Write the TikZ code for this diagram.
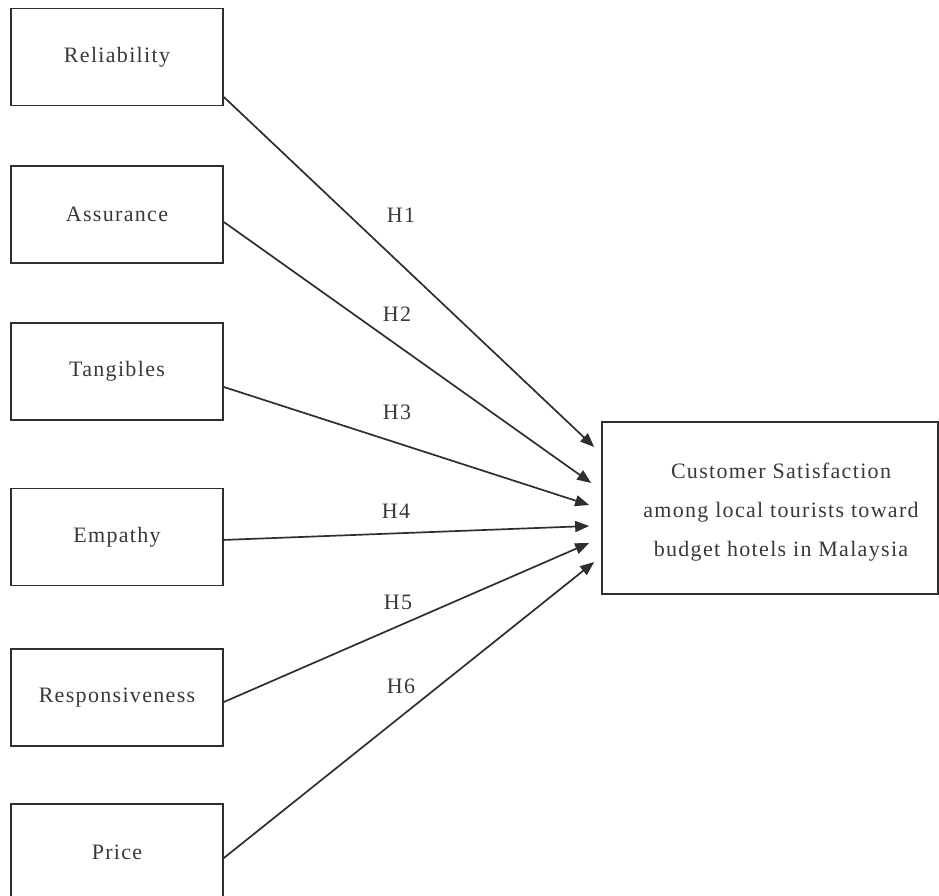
\documentclass[tikz,border=0pt]{standalone}
\usepackage{fontspec}
\setmainfont{Liberation Serif}[LetterSpace=6]
\usetikzlibrary{arrows.meta}
\definecolor{ink}{HTML}{2E2E2E}
\definecolor{txt}{HTML}{383838}
\begin{document}
\begin{tikzpicture}[x=1pt,y=-1pt,
  box/.style={draw=ink,line width=1.7pt,minimum width=212pt,minimum height=97pt,inner sep=0pt,
    text=txt,font=\fontsize{22}{39}\selectfont},
  conn/.style={draw=ink,line width=1.7pt,-{Triangle[length=14pt,width=11pt]}},
  hlab/.style={text=txt,font=\fontsize{22}{24}\selectfont,inner sep=0pt}]
\useasboundingbox (0,0) rectangle (939,896);
\node[box] (rel) at (117,57) {Reliability};
\node[box] (ass) at (117,214.5) {Assurance};
\node[box] (tan) at (117,371.5) {Tangibles};
\node[box] (emp) at (117,537) {Empathy};
\node[box] (res) at (117,697.5) {Responsiveness};
\node[box] (pri) at (117,852.5) {Price};
\node[draw=ink,line width=1.7pt,minimum width=336pt,minimum height=172pt,inner sep=0pt] (cs) at (770,508) {};
\node[text=txt,font=\fontsize{22}{39}\selectfont,align=center,inner sep=0pt] (cstext) at (781,512)
  {Customer Satisfaction\\among local tourists toward\\budget hotels in Malaysia};
\draw[conn] ([yshift=-40pt]rel.east) -- ([xshift=-7pt,yshift=61pt]cs.west);
\draw[conn] ([yshift=-7.5pt]ass.east) -- ([xshift=-10pt,yshift=25pt]cs.west);
\draw[conn] ([yshift=-15.5pt]tan.east) -- ([xshift=-12pt,yshift=3pt]cs.west);
\draw[conn] ([xshift=-2pt,yshift=-3pt]emp.east) -- ([xshift=-12pt,yshift=-18pt]cs.west);
\draw[conn] ([yshift=-4.5pt]res.east) -- ([xshift=-12pt,yshift=-35pt]cs.west);
\draw[conn] ([yshift=-5.5pt]pri.east) -- ([xshift=-7pt,yshift=-54pt]cs.west);
\node[hlab] (h1) at (401,215) {H1};
\node[hlab] (h2) at (397,314) {H2};
\node[hlab] (h3) at (397,412) {H3};
\node[hlab] (h4) at (396,511) {H4};
\node[hlab] (h5) at (398,602) {H5};
\node[hlab] (h6) at (401,686) {H6};
\end{tikzpicture}
\end{document}
